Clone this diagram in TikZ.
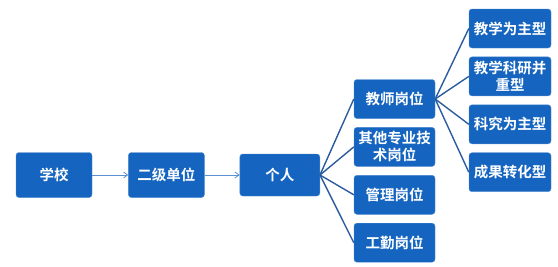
\documentclass[tikz,border=0pt]{standalone}
\usepackage{fontspec}
\newfontfamily\cjk{Noto Sans CJK SC}[BoldFont={Noto Sans CJK SC Bold}]
\usetikzlibrary{arrows.meta, positioning}
\definecolor{boxblue}{HTML}{1565C0}
\definecolor{boxline}{HTML}{4A86CF}
\definecolor{treeline}{HTML}{2B5C9E}
\definecolor{arrline}{HTML}{5B8FD0}

\begin{document}
\begin{tikzpicture}[
    x=1pt, y=1pt,
    node distance=8.5pt and 35pt,
    every node/.style={font=\cjk\bfseries\fontsize{14.5}{17}\selectfont, text=white},
    box/.style={rectangle, rounded corners=3pt, draw=boxline, fill=boxblue,
                minimum width=81pt, minimum height=39pt, inner sep=1pt, align=center},
    wbox/.style={box, minimum width=76pt, minimum height=45pt},
    arr/.style={-{Straight Barb[length=4pt, width=6pt]}, arrline, line width=0.8pt},
    link/.style={treeline, line width=1.4pt}
  ]
  \useasboundingbox (0,0) rectangle (558,266);

  \node[wbox] (school) at (54,91) {学校};
  \node[wbox, right=36pt of school] (unit) {二级单位};
  \node[box, right=35pt of unit, minimum width=80pt, minimum height=42pt] (person) {个人};

  \node[box] (teacher) at (394.5,167) {教师岗位};
  \node[box, below=of teacher] (tech)    {其他专业技\\术岗位};
  \node[box, below=of tech]    (admin)   {管理岗位};
  \node[box, below=of admin]   (service) {工勤岗位};

  \node[box, minimum width=82pt] (teach)  at (510,237.5) {教学为主型};
  \node[box, minimum width=82pt, below=of teach]  (both)   {教学科研并\\重型};
  \node[box, minimum width=82pt, below=of both]   (study)  {科究为主型};
  \node[box, minimum width=82pt, below=of study]  (result) {成果转化型};

  \draw[arr] (school) -- (unit);
  \draw[arr] (unit)   -- (person);

  \foreach \n in {teacher, tech, admin, service}
    \draw[link] (person.east) -- (\n.west);
  \foreach \n in {teach, both, study, result}
    \draw[link] (teacher.east) -- (\n.west);
\end{tikzpicture}
\end{document}
